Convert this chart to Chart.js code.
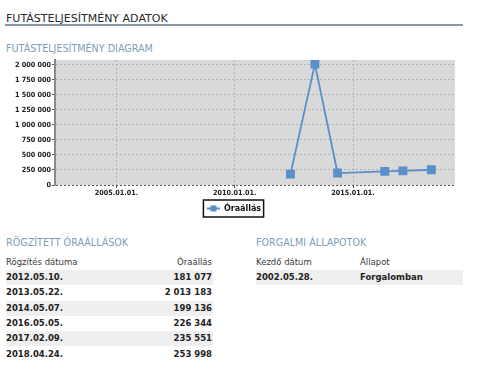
<!DOCTYPE html>
<html lang="hu">
<head>
<meta charset="utf-8">
<title>Futásteljesítmény adatok</title>
<script src="https://cdn.jsdelivr.net/npm/chart.js@4.4.1/dist/chart.umd.min.js"></script>
<style>
    body { margin: 0; background: #fff; font-family: "DejaVu Sans", Verdana, sans-serif; color: #222; }
    .abs { position: absolute; white-space: nowrap; line-height: 1; }
    .title { left: 6px; top: 13px; font-size: 11px; color: #2a2a2a; }
    .title-line { position: absolute; left: 5px; top: 24px; width: 458px; height: 2px; background: #8599ad; }
    .sub { font-size: 9.6px; color: #7d9fb4; }
    .chart-box { position: absolute; left: 0; top: 52px; width: 470px; height: 172px; }
    .row { position: absolute; height: 15.3px; }
    .row.alt { background: #efefef; }
    .cell { position: absolute; top: 3px; font-size: 8.5px; line-height: 1; white-space: nowrap; }
    .head .cell { color: #3a3a3a; }
    .body .cell { font-weight: bold; color: #222; }
</style>
</head>
<body>
<div class="abs title">FUTÁSTELJESÍTMÉNY ADATOK</div>
<div class="title-line"></div>
<div class="abs sub" style="left:6px; top:44px;">FUTÁSTELJESÍTMÉNY DIAGRAM</div>

<div class="chart-box"><canvas id="mileageChart"></canvas></div>

<div class="abs sub" style="left:6px; top:238px;">RÖGZÍTETT ÓRAÁLLÁSOK</div>
<div id="readingsTable"></div>

<div class="abs sub" style="left:256px; top:238px;">FORGALMI ÁLLAPOTOK</div>
<div id="statusTable"></div>

<script>
// ==========================================
// DATA
// ==========================================
const readingDates = ['2012.05.10.', '2013.05.22.', '2014.05.07.', '2016.05.05.', '2017.02.09.', '2018.04.24.'];
const readingValues = [181077, 2013183, 199136, 226344, 235551, 253998];
const seriesLabel = 'Óraállás';

const xTickLabels = ['2005.01.01.', '2010.01.01.', '2015.01.01.'];
const xRange = ['2002.05.28.', '2019.04.24.'];
const yTickValues = [0, 250000, 500000, 750000, 1000000, 1250000, 1500000, 1750000, 2000000];
const yMax = 2080000;

const statusDates = ['2002.05.28.'];
const statusNames = ['Forgalomban'];

// ==========================================
// HELPERS
// ==========================================
const parseDate = (str) => {
    const [y, m, d] = str.split('.').map(Number);
    return Date.UTC(y, m - 1, d);
};
const formatNumber = (v) => String(v).replace(/\B(?=(\d{3})+(?!\d))/g, ' ');

// ==========================================
// TABLES
// ==========================================
const buildTable = (container, left, width, headers, rows, cols) => {
    const rowTop = 270;
    const rowHeight = 15.3;
    const addRow = (cells, top, cls) => {
        const row = document.createElement('div');
        row.className = 'row ' + cls;
        row.style.left = left + 'px';
        row.style.width = width + 'px';
        row.style.top = top + 'px';
        cells.forEach((text, i) => {
            const cell = document.createElement('div');
            cell.className = 'cell';
            cell.textContent = text;
            if (cols[i].right) cell.style.right = cols[i].right + 'px';
            else cell.style.left = cols[i].left + 'px';
            row.appendChild(cell);
        });
        container.appendChild(row);
    };
    addRow(headers, rowTop - rowHeight, 'head');
    rows.forEach((cells, i) => addRow(cells, rowTop + i * rowHeight, 'body' + (i % 2 === 0 ? ' alt' : '')));
};

buildTable(
    document.getElementById('readingsTable'), 6, 207,
    ['Rögzítés dátuma', 'Óraállás'],
    readingDates.map((d, i) => [d, formatNumber(readingValues[i])]),
    [{ left: 0 }, { right: 1 }]
);
buildTable(
    document.getElementById('statusTable'), 256, 207,
    ['Kezdő dátum', 'Állapot'],
    statusDates.map((d, i) => [d, statusNames[i]]),
    [{ left: 0 }, { left: 104 }]
);

// ==========================================
// CHART
// ==========================================
const lineColor = '#5b8fca';

// legend icon: short line with a square in the middle
const legendIcon = document.createElement('canvas');
legendIcon.width = 13;
legendIcon.height = 8;
(() => {
    const c = legendIcon.getContext('2d');
    c.strokeStyle = lineColor;
    c.lineWidth = 2;
    c.beginPath();
    c.moveTo(0, 4);
    c.lineTo(13, 4);
    c.stroke();
    c.fillStyle = lineColor;
    c.fillRect(3.5, 1, 6, 6);
})();

const plotBackground = {
    id: 'plotBackground',
    beforeDraw(chart) {
        const { ctx, chartArea: a } = chart;
        ctx.save();
        ctx.fillStyle = '#d9d9d9';
        ctx.fillRect(a.left, a.top, a.right - a.left, a.bottom - a.top);
        ctx.restore();
    }
};

const legendBorder = {
    id: 'legendBorder',
    afterDraw(chart) {
        const boxes = chart.legend && chart.legend.legendHitBoxes;
        if (!boxes || !boxes.length) return;
        const b = boxes[0];
        const { ctx } = chart;
        ctx.save();
        ctx.strokeStyle = '#111';
        ctx.lineWidth = 1.5;
        ctx.strokeRect(b.left - 3.5, b.top - 4.5, b.width + 6, b.height + 9);
        ctx.restore();
    }
};

const tickFont = { family: 'DejaVu Sans Condensed', size: 7.2, weight: 'bold' };
const gridColor = 'rgba(150,150,150,0.55)';

new Chart(document.getElementById('mileageChart'), {
    type: 'line',
    data: {
        datasets: [{
            label: seriesLabel,
            data: readingDates.map((d, i) => ({ x: parseDate(d), y: readingValues[i] })),
            borderColor: lineColor,
            backgroundColor: lineColor,
            borderWidth: 1.8,
            pointStyle: 'rect',
            pointRadius: 5,
            pointHoverRadius: 5,
            tension: 0
        }]
    },
    options: {
        responsive: true,
        maintainAspectRatio: false,
        animation: false,
        layout: { padding: { left: 13, right: 15, top: 8, bottom: 1.5 } },
        plugins: {
            tooltip: { enabled: false },
            legend: {
                position: 'bottom',
                labels: {
                    usePointStyle: true,
                    pointStyleWidth: 13,
                    padding: 5,
                    color: '#111',
                    font: { family: 'DejaVu Sans', size: 8, weight: 'bold' },
                    generateLabels: (chart) => Chart.defaults.plugins.legend.labels.generateLabels(chart)
                        .map(l => ({ ...l, pointStyle: legendIcon }))
                }
            }
        },
        scales: {
            x: {
                type: 'linear',
                min: parseDate(xRange[0]),
                max: parseDate(xRange[1]),
                afterBuildTicks: (scale) => {
                    scale.ticks = xTickLabels.map(t => ({ value: parseDate(t) }));
                },
                afterFit: (scale) => { scale.height = 14.5; },
                ticks: {
                    autoSkip: false,
                    maxRotation: 0,
                    padding: 1,
                    color: '#222',
                    font: tickFont,
                    callback: (value, index) => xTickLabels[index]
                },
                grid: {
                    color: gridColor,
                    tickColor: '#555',
                    tickLength: 3,
                    lineWidth: 1
                },
                border: { display: false, dash: [2, 2] }
            },
            y: {
                min: 0,
                max: yMax,
                afterBuildTicks: (scale) => {
                    scale.ticks = yTickValues.map(v => ({ value: v }));
                },
                afterFit: (scale) => { scale.width = 42; },
                ticks: {
                    padding: 1,
                    color: '#222',
                    font: tickFont,
                    callback: (value) => formatNumber(value)
                },
                grid: {
                    color: (ctx) => ctx.tick && ctx.tick.value === 0 ? '#555' : gridColor,
                    tickColor: '#555',
                    tickLength: 3,
                    lineWidth: 1
                },
                border: { display: true, color: '#8a8a8a', width: 2, dash: [2, 2] }
            }
        }
    },
    plugins: [plotBackground, legendBorder]
});
</script>
</body>
</html>
